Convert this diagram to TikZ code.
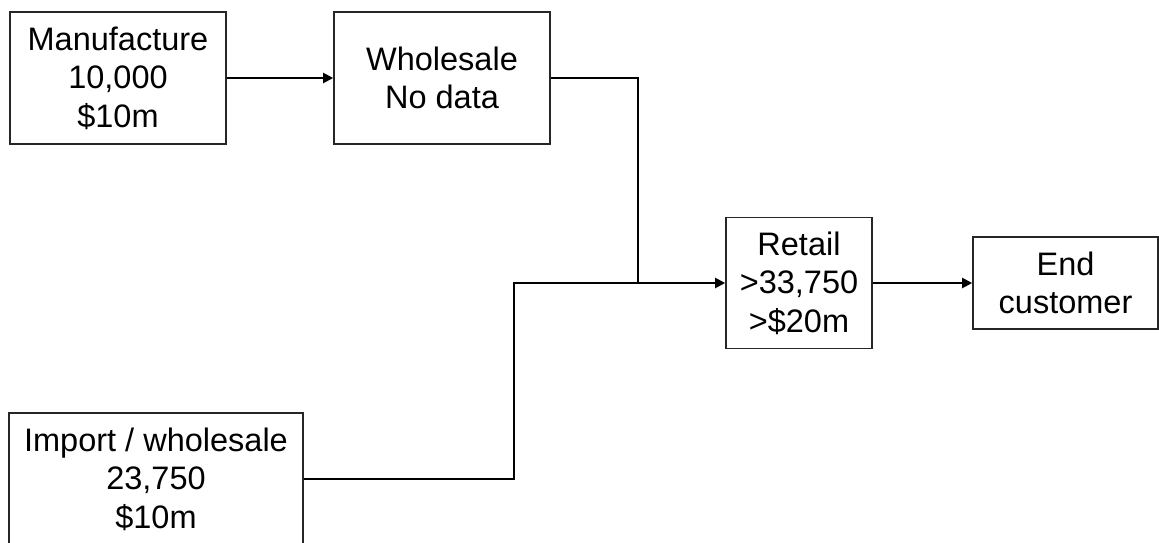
\documentclass[tikz,border=0pt]{standalone}
\usepackage{fontspec}
\setmainfont{Liberation Sans}
\usetikzlibrary{arrows.meta}

\tikzset{
  stage/.style={draw=black!85, line width=1.6pt, fill=white, inner sep=0pt,
    align=center, font=\fontsize{32.5}{38.5}\selectfont},
  flow/.style={draw=black, line width=2pt},
  flowarrow/.style={flow, -{Triangle[length=10pt,width=10pt]}}
}

\begin{document}
\begin{tikzpicture}[x=1pt, y=-1pt]
  \useasboundingbox (0,0) rectangle (1159,542);

  % stages of the supply chain
  \node[stage, minimum width=216pt, minimum height=132pt] (man) at (118,78)
    {Manufacture\\10,000\\\$10m};
  \node[stage, minimum width=216pt, minimum height=132pt] (whs) at (442,78)
    {Wholesale\\No data};
  \node[stage, minimum width=146pt, minimum height=131pt] (ret) at (799,283)
    {Retail\\>33,750\\>\$20m};
  \node[stage, minimum width=185pt, minimum height=92pt] (endc) at (1065.5,283)
    {End\\customer};
  \node[stage, minimum width=294pt, minimum height=132pt] (imp) at (156,479)
    {Import / wholesale\\23,750\\\$10m};

  % bend points of the merging lines
  \coordinate (j) at (637.5,283);
  \coordinate (k) at (513.5,283);

  % connectors
  \draw[flowarrow] (man.east) -- (whs.west);
  \draw[flowarrow] (whs.east) -| (j) -- (ret.west);
  \draw[flow] (imp.east) -| (k) -- (j);
  \draw[flowarrow] (ret.east) -- (endc.west);
\end{tikzpicture}
\end{document}
